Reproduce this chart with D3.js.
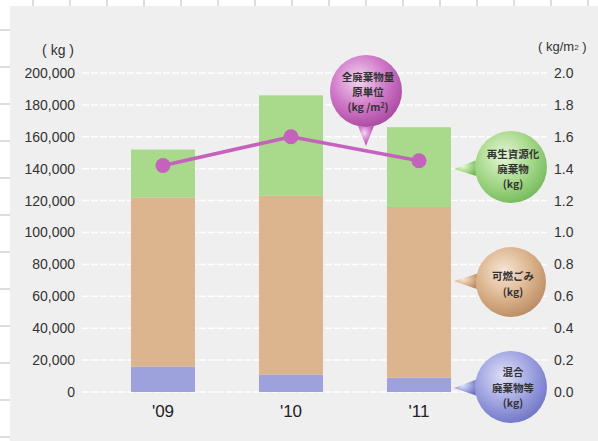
<!DOCTYPE html>
<html>
<head>
<meta charset="utf-8">
<script src="https://cdn.jsdelivr.net/npm/d3@7"></script>
<style>
  body { margin: 0; background: #fff; }
  svg { display: block; }
  .tick-l, .tick-r { font-family: "Liberation Sans", Arial, sans-serif; font-size: 14px; fill: #333; }
  .xlab { font-family: "Liberation Sans", Arial, sans-serif; font-size: 17px; fill: #222; }
  .bub { font-family: "Noto Sans CJK JP", sans-serif; font-size: 10.5px; font-weight: bold; fill: #333; }
</style>
</head>
<body>
<div id="svg"></div>
<script>
var years = ["'09", "'10", "'11"];
var mixed = [16000, 11000, 9000];
var burnable = [106000, 112000, 107000];
var recycled = [30000, 63000, 50000];
var perArea = [1.42, 1.60, 1.45];
var leftTicks = [0, 20000, 40000, 60000, 80000, 100000, 120000, 140000, 160000, 180000, 200000];
var rightTicks = [0, 0.2, 0.4, 0.6, 0.8, 1.0, 1.2, 1.4, 1.6, 1.8, 2.0];

var width = 598,
    height = 441;

var color = ["#9ea2dc", "#dcb58f", "#a9d98b"];

var svg = d3.select("#svg").append("svg")
    .attr("width", width)
    .attr("height", height);

// paper border with small ticks
svg.append("rect")
    .attr("x", 10).attr("y", 6)
    .attr("width", width - 10).attr("height", height - 6)
    .attr("fill", "#efefef");
for (var i = 0; i < 16; i++) {
    svg.append("line")
        .attr("x1", 33 + i * 37).attr("x2", 33 + i * 37)
        .attr("y1", 0).attr("y2", 6)
        .attr("stroke", "#bbb");
}
for (var i = 0; i < 12; i++) {
    svg.append("line")
        .attr("x1", 0).attr("x2", 10)
        .attr("y1", 30 + i * 37).attr("y2", 30 + i * 37)
        .attr("stroke", "#bbb");
}

var y = d3.scaleLinear()
    .domain([0, 200000])
    .range([392, 73]);

var y2 = d3.scaleLinear()
    .domain([0, 2])
    .range([392, 73]);

var x = d3.scaleBand()
    .domain(years)
    .range([99, 483])
    .paddingInner(0.5)
    .paddingOuter(0.25);

// grid
svg.append("g")
    .selectAll("line")
    .data(leftTicks)
    .enter().append("line")
    .attr("x1", 82)
    .attr("x2", 547)
    .attr("y1", d => y(d))
    .attr("y2", d => y(d))
    .attr("stroke", "#fff")
    .attr("stroke-width", 1.5)
    .attr("stroke-dasharray", "7,2");

// left axis
svg.append("g")
    .selectAll("text")
    .data(leftTicks)
    .enter().append("text")
    .attr("class", "tick-l")
    .attr("x", 75)
    .attr("y", d => y(d))
    .attr("dy", "0.35em")
    .attr("text-anchor", "end")
    .text(d => d3.format(",")(d));

svg.append("text")
    .attr("class", "tick-l")
    .attr("x", 74)
    .attr("y", 50)
    .attr("dy", "0.35em")
    .attr("text-anchor", "end")
    .text("( kg )");

// right axis
svg.append("g")
    .selectAll("text")
    .data(rightTicks)
    .enter().append("text")
    .attr("class", "tick-r")
    .attr("x", 554)
    .attr("y", d => y2(d))
    .attr("dy", "0.35em")
    .text(d => d3.format(".1f")(d));

var ru = svg.append("text")
    .attr("class", "tick-r")
    .attr("x", 538)
    .attr("y", 46)
    .attr("dy", "0.35em")
    .style("font-size", "13px");
ru.append("tspan").text("( kg/m");
ru.append("tspan").attr("font-size", "8px").attr("dy", "-1").text("2");
ru.append("tspan").attr("dy", "1").text(" )");

// stacked bars
var stack = years.map(function (yr, i) {
    return [
        { y0: 0, y1: mixed[i], c: color[0] },
        { y0: mixed[i], y1: mixed[i] + burnable[i], c: color[1] },
        { y0: mixed[i] + burnable[i], y1: mixed[i] + burnable[i] + recycled[i], c: color[2] }
    ].map(s => Object.assign({ year: yr }, s));
});

svg.append("g")
    .selectAll("rect")
    .data(stack.flat())
    .enter().append("rect")
    .attr("x", d => x(d.year))
    .attr("y", d => y(d.y1))
    .attr("width", x.bandwidth())
    .attr("height", d => y(d.y0) - y(d.y1))
    .attr("fill", d => d.c);

// x labels
svg.append("g")
    .selectAll("text")
    .data(years)
    .enter().append("text")
    .attr("class", "xlab")
    .attr("x", d => x(d) + x.bandwidth() / 2)
    .attr("y", 411)
    .attr("dy", "0.35em")
    .attr("text-anchor", "middle")
    .text(d => d);

// line
var line = d3.line()
    .x((d, i) => x(years[i]) + x.bandwidth() / 2)
    .y(d => y2(d));

svg.append("path")
    .datum(perArea)
    .attr("d", line)
    .attr("fill", "none")
    .attr("stroke", "#c462bd")
    .attr("stroke-width", 3.5);

svg.append("g")
    .selectAll("circle")
    .data(perArea)
    .enter().append("circle")
    .attr("cx", (d, i) => x(years[i]) + x.bandwidth() / 2)
    .attr("cy", d => y2(d))
    .attr("r", 7.5)
    .attr("fill", "#c462bd");

// bubbles
var defs = svg.append("defs");
function grad(id, light, mid, dark) {
    var g = defs.append("radialGradient")
        .attr("id", id)
        .attr("cx", "40%").attr("cy", "35%").attr("r", "70%");
    g.append("stop").attr("offset", "0%").attr("stop-color", light);
    g.append("stop").attr("offset", "55%").attr("stop-color", mid);
    g.append("stop").attr("offset", "100%").attr("stop-color", dark);
}
grad("gp", "#f3d6f0", "#cf78c8", "#a8469f");
grad("gg", "#e6f6d8", "#a6d98a", "#74b85a");
grad("go", "#f7e6d6", "#dcb48e", "#b88a62");
grad("gb", "#dfe1f8", "#9fa3e0", "#6e73c4");

function bubble(cx, cy, r, tx, ty, fill, lines, lineY) {
    var b = svg.append("g");
    var ang = Math.atan2(ty - cy, tx - cx);
    var p1 = [cx + r * Math.cos(ang + 0.22), cy + r * Math.sin(ang + 0.22)];
    var p2 = [cx + r * Math.cos(ang - 0.22), cy + r * Math.sin(ang - 0.22)];
    b.append("path")
        .attr("d", "M" + p1 + "L" + tx + "," + ty + "L" + p2 + "Z")
        .attr("fill", "url(#" + fill + ")");
    b.append("circle")
        .attr("cx", cx).attr("cy", cy).attr("r", r)
        .attr("fill", "url(#" + fill + ")");
    lines.forEach(function (t, i) {
        var tx2 = b.append("text")
            .attr("class", "bub")
            .attr("x", cx + 2)
            .attr("y", cy + lineY[i])
            .attr("dy", "0.35em")
            .attr("text-anchor", "middle");
        if (t === "m2") {
            tx2.append("tspan").text("(kg /m");
            tx2.append("tspan").attr("font-size", "7px").attr("dy", "-3").text("2");
            tx2.append("tspan").attr("dy", "3").text(")");
        } else {
            tx2.text(t);
        }
    });
}

bubble(366, 91, 36, 366, 146, "gp", ["全廃棄物量", "原単位", "m2"], [-14, 1, 16]);
bubble(511, 167, 36, 454, 169, "gg", ["再生資源化", "廃棄物", "(kg)"], [-13, 2, 17]);
bubble(511, 282, 35, 454, 281, "go", ["可燃ごみ", "(kg)"], [-6, 10]);
bubble(511, 387, 36, 454, 388, "gb", ["混合", "廃棄物等", "(kg)"], [-15, 1, 16]);
</script>
</body>
</html>
